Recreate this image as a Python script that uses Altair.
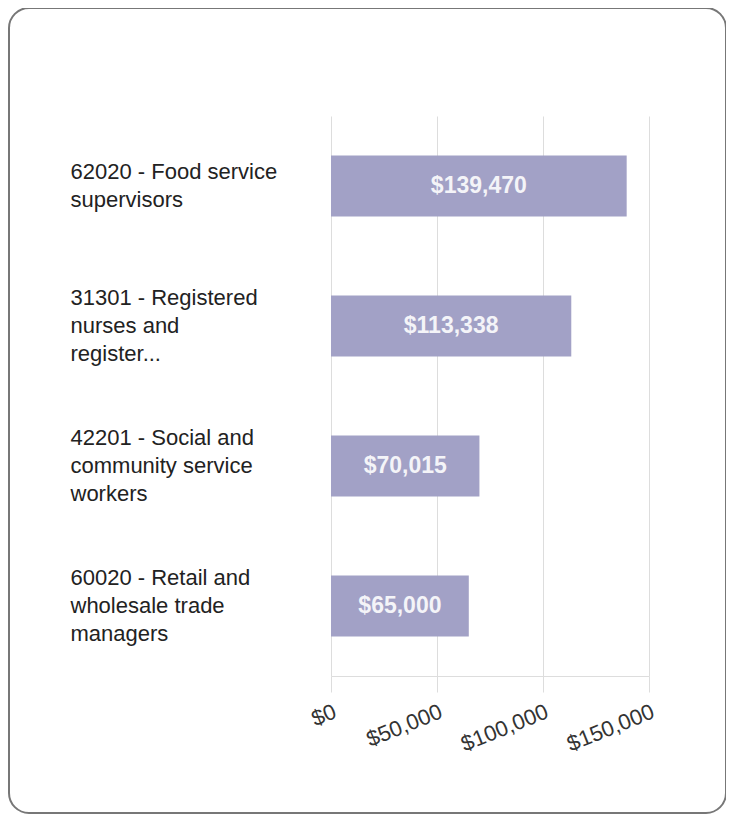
import altair as alt
import pandas as pd

categories = [
    "62020 - Food service\nsupervisors",
    "31301 - Registered\nnurses and\nregister...",
    "42201 - Social and\ncommunity service\nworkers",
    "60020 - Retail and\nwholesale trade\nmanagers",
]
values = [139470, 113338, 70015, 65000]
x_ticks = [0, 50000, 100000, 150000]

df = pd.DataFrame({"cat": categories, "value": values})

FONT = "Liberation Sans, Arial, sans-serif"
BAR = "#a2a1c6"
GRID = "#dddddd"

y_enc = alt.Y(
    "cat:N",
    sort=None,
    scale=alt.Scale(paddingInner=0.564, paddingOuter=0.282),
    axis=alt.Axis(
        title=None,
        labelExpr="split(datum.label, '\\n')",
        labelAlign="left",
        labelBaseline="middle",
        labelPadding=261,
        labelFontSize=22,
        labelLineHeight=28,
        labelFont=FONT,
        labelColor="#222222",
        labelLimit=0,
        labelOffset={
            "condition": {"test": "length(split(datum.value, '\\n')) == 2", "value": -14},
            "value": -28,
        },
        ticks=False,
        tickSize=0,
        domain=False,
        grid=False,
    ),
)

x_enc = alt.X(
    "value:Q",
    scale=alt.Scale(domain=[0, 150000], nice=False),
    axis=alt.Axis(
        title=None,
        values=x_ticks,
        format="$,.0f",
        labelAngle=-22,
        labelAlign="right",
        labelBaseline="top",
        labelFontSize=22,
        labelFont=FONT,
        labelColor="#333333",
        labelPadding=9,
        tickSize=16,
        tickColor=GRID,
        domainColor=GRID,
        gridColor=GRID,
        grid=True,
    ),
)

bars = alt.Chart(df).mark_bar(color=BAR).encode(x=x_enc, y=y_enc)

texts = (
    alt.Chart(df)
    .transform_calculate(mid="datum.value / 2")
    .mark_text(color="#f4f4f8", fontWeight="bold", fontSize=23, font=FONT, baseline="middle", align="center")
    .encode(
        x=alt.X("mid:Q"),
        y=alt.Y("cat:N", sort=None),
        text=alt.Text("value:Q", format="$,.0f"),
    )
)

frame = (
    alt.Chart(alt.Data(values=[{"f": 1}]))
    .mark_rect(filled=False, stroke="#777777", strokeWidth=2, cornerRadius=20)
    .encode(
        x=alt.value(-322),
        x2=alt.value(395),
        y=alt.value(-108),
        y2=alt.value(697),
    )
)

chart = (
    alt.layer(frame, bars, texts)
    .properties(
        width=318,
        height=560,
        autosize=alt.AutoSizeParams(type="none"),
        padding={"left": 323, "top": 108, "right": 77, "bottom": 138},
    )
    .configure_view(stroke=None)
)

chart.save("out.html", embed_options={"renderer": "svg", "actions": False})
